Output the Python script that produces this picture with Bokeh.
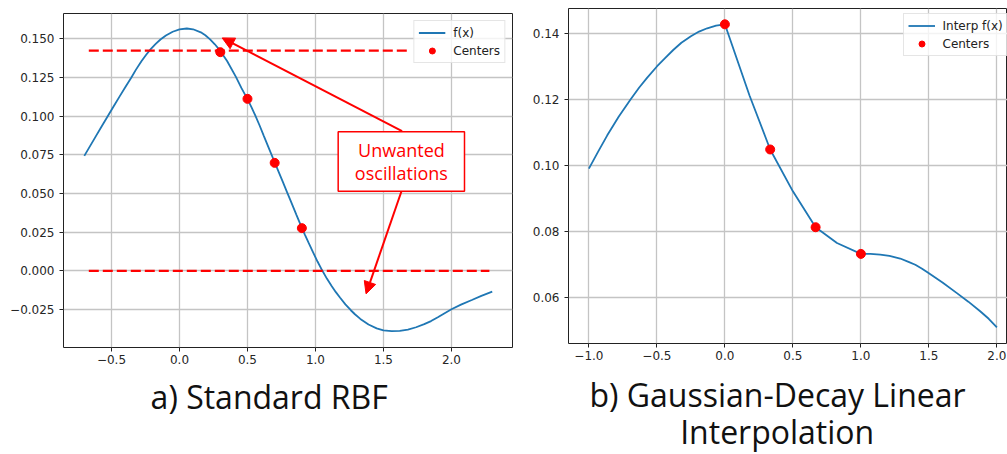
from bokeh.plotting import figure
from bokeh.layouts import row, column
from bokeh.models import (Range1d, FixedTicker, CustomJSTickFormatter, Legend, LegendItem,
                          Label, BoxAnnotation, Arrow, NormalHead, Spacer)
from bokeh.core.properties import value
from bokeh.embed import file_html
from bokeh.resources import INLINE

# ---------------- data: a) Standard RBF ----------------
rbf_x = [-0.70, -0.66, -0.62, -0.575, -0.53, -0.485, -0.44, -0.40, -0.355, -0.32, -0.28,
         -0.245, -0.21, -0.175, -0.14, -0.10, -0.05, 0.00, 0.054, 0.10, 0.157, 0.19, 0.225,
         0.26, 0.30, 0.35, 0.415, 0.455, 0.50, 0.53, 0.558, 0.59, 0.62, 0.66, 0.70, 0.73,
         0.76, 0.79, 0.82, 0.86, 0.90, 0.922, 0.95, 0.98, 1.015, 1.051, 1.085, 1.12, 1.15,
         1.18, 1.22, 1.26, 1.29, 1.33, 1.39, 1.45, 1.50, 1.56, 1.62, 1.68, 1.74, 1.80, 1.85,
         1.90, 2.00, 2.07, 2.15, 2.22, 2.30]
rbf_y = [0.0743, 0.0803, 0.0863, 0.0930, 0.0996, 0.1062, 0.1128, 0.1186, 0.1249, 0.1301,
         0.1355, 0.1397, 0.1435, 0.1467, 0.1496, 0.1522, 0.1546, 0.1561, 0.1567, 0.1562,
         0.1542, 0.1523, 0.1497, 0.1465, 0.1422, 0.1357, 0.1254, 0.1183, 0.1110, 0.1057,
         0.1003, 0.0938, 0.0873, 0.0787, 0.0702, 0.0638, 0.0575, 0.0511, 0.0447, 0.0362,
         0.0278, 0.0234, 0.0180, 0.0124, 0.0060, 0.0000, -0.0052, -0.0100, -0.0138, -0.0173,
         -0.0217, -0.0255, -0.0281, -0.0311, -0.0347, -0.0372, -0.0385, -0.0390, -0.0388,
         -0.0380, -0.0365, -0.0345, -0.0325, -0.0300, -0.0249, -0.0219, -0.0189, -0.0162,
         -0.0135]
rbf_centers_x = [0.3, 0.5, 0.7, 0.9]
rbf_centers_y = [0.1414, 0.1112, 0.0698, 0.0276]

rbf_xticks = [-0.5, 0.0, 0.5, 1.0, 1.5, 2.0]
rbf_yticks = [-0.025, 0.0, 0.025, 0.05, 0.075, 0.1, 0.125, 0.15]

# overlay annotations (data coordinates)
upper_dash_x = [-0.667, 1.679]
upper_dash_y = [0.1424, 0.1424]
lower_dash_x = [-0.667, 2.279]
lower_dash_y = [0.0, 0.0]
note_box = dict(left=1.167, right=2.096, top=0.0900, bottom=0.0514)
arrow_up = dict(x_start=1.637, y_start=0.0903, x_end=0.314, y_end=0.1506)
arrow_down = dict(x_start=1.632, y_start=0.0513, x_end=1.372, y_end=-0.0149)
note_lines = ["Unwanted", "oscillations"]
note_x = 1.632
note_y = [0.0780, 0.0630]

# ---------------- data: b) Gaussian-Decay Linear Interpolation ----------------
gd_x = [-1.0, -0.93, -0.865, -0.78, -0.694, -0.63, -0.571, -0.5, -0.44, -0.38, -0.32,
        -0.25, -0.19, -0.13, -0.065, 0.0, 0.181, 0.333, 0.5, 0.667, 0.824, 1.0, 1.07,
        1.142, 1.21, 1.289, 1.35, 1.40, 1.45, 1.5, 1.6, 1.706, 1.79, 1.877, 1.94, 2.0]
gd_y = [0.0990, 0.1043, 0.1091, 0.1148, 0.1200, 0.1236, 0.1266, 0.1300, 0.1325, 0.1350,
        0.1372, 0.1392, 0.1406, 0.1416, 0.1424, 0.1428, 0.1212, 0.1048, 0.0921, 0.0812,
        0.0764, 0.0731, 0.0731, 0.0729, 0.0725, 0.0717, 0.0707, 0.0698, 0.0686, 0.0672,
        0.0644, 0.0612, 0.0586, 0.0557, 0.0534, 0.0508]
gd_centers_x = [0.0, 0.333, 0.667, 1.0]
gd_centers_y = [0.1428, 0.1048, 0.0812, 0.0731]

gd_xticks = [-1.0, -0.5, 0.0, 0.5, 1.0, 1.5, 2.0]
gd_yticks = [0.06, 0.08, 0.10, 0.12, 0.14]

caption_text = ["a) Standard RBF", "b) Gaussian-Decay Linear", "Interpolation"]

BLUE = "#1f77b4"
RED = "#ff0000"
CAP_FONT = "Open Sans"


def style(p, xticks, yticks, xdec, ydec):
    p.background_fill_color = "white"
    p.border_fill_color = "white"
    p.outline_line_color = "#222222"
    p.outline_line_width = 1
    p.outline_line_alpha = 1
    p.xaxis.ticker = FixedTicker(ticks=xticks)
    p.yaxis.ticker = FixedTicker(ticks=yticks)
    p.xgrid.ticker = FixedTicker(ticks=xticks)
    p.ygrid.ticker = FixedTicker(ticks=yticks)
    p.xaxis.formatter = CustomJSTickFormatter(
        code="return tick.toFixed(%d).replace('-', '\\u2212')" % xdec)
    p.yaxis.formatter = CustomJSTickFormatter(
        code="return tick.toFixed(%d).replace('-', '\\u2212')" % ydec)
    for ax in (p.xaxis[0], p.yaxis[0]):
        ax.axis_line_color = None
        ax.major_tick_line_color = "#222222"
        ax.major_tick_out = 4
        ax.major_tick_in = 0
        ax.minor_tick_line_color = None
        ax.major_label_text_font = "DejaVu Sans"
        ax.major_label_text_font_size = "12px"
        ax.major_label_text_color = "#262626"
    p.xaxis.major_label_standoff = 3
    p.yaxis.major_label_standoff = 5
    for g in (p.xgrid[0], p.ygrid[0]):
        g.grid_line_color = "#c4c4c4"
        g.grid_line_width = 1.3


def make_legend(items, location):
    return Legend(items=items, location=location, margin=7,
                  border_line_color="#cccccc", border_line_width=1,
                  background_fill_color="white", background_fill_alpha=0.8,
                  label_text_font="DejaVu Sans", label_text_font_size="12px",
                  label_text_color="#222222",
                  padding=4, spacing=3, glyph_height=15, glyph_width=27,
                  label_height=15, label_standoff=8)


# ---------------- figure a (frame: x 63-512, y 13-347) ----------------
p1 = figure(width=520, height=366, output_backend="svg", toolbar_location=None,
            x_range=Range1d(-0.853, 2.449), y_range=Range1d(-0.0496, 0.1664),
            min_border_left=63, min_border_right=8, min_border_top=8, min_border_bottom=24)
style(p1, rbf_xticks, rbf_yticks, 1, 3)

l1 = p1.line(rbf_x, rbf_y, line_color=BLUE, line_width=1.8)
s1 = p1.scatter(rbf_centers_x, rbf_centers_y, size=9, fill_color=RED, line_color=RED)
p1.line(upper_dash_x, upper_dash_y, line_color=RED, line_width=2.2, line_dash="10 4")
p1.line(lower_dash_x, lower_dash_y, line_color=RED, line_width=2.2, line_dash="10 4")

p1.add_layout(BoxAnnotation(fill_color="white", fill_alpha=1.0, line_color=RED,
                            line_width=1.5, line_alpha=1.0, **note_box))
for txt, yy in zip(note_lines, note_y):
    p1.add_layout(Label(x=note_x, y=yy, text=txt, text_align="center",
                        text_baseline="alphabetic", text_font=CAP_FONT,
                        text_font_size="18px", text_color=RED))
for a in (arrow_up, arrow_down):
    p1.add_layout(Arrow(end=NormalHead(size=12, fill_color=RED, line_color=RED),
                        line_color=RED, line_width=2, **a))

p1.add_layout(make_legend([LegendItem(label="f(x)", renderers=[l1]),
                           LegendItem(label="Centers", renderers=[s1])], "top_right"))

# ---------------- figure b (frame: x 568-1007, y 8-343) ----------------
p2 = figure(width=487, height=367, output_backend="svg", toolbar_location=None,
            x_range=Range1d(-1.15, 2.078), y_range=Range1d(0.0459, 0.1476),
            min_border_left=48, min_border_right=0, min_border_top=8, min_border_bottom=24)
style(p2, gd_xticks, gd_yticks, 1, 2)

l2 = p2.line(gd_x, gd_y, line_color=BLUE, line_width=1.8)
s2 = p2.scatter(gd_centers_x, gd_centers_y, size=9, fill_color=RED, line_color=RED)

p2.add_layout(make_legend([LegendItem(label="Interp f(x)", renderers=[l2]),
                           LegendItem(label="Centers", renderers=[s2])], (334.5, 287)))

# ---------------- captions strip (data units = page pixels) ----------------
p3 = figure(width=1007, height=83, output_backend="svg", toolbar_location=None,
            x_range=Range1d(0, 1007), y_range=Range1d(454, 371),
            x_axis_location=None, y_axis_location=None,
            min_border_left=0, min_border_right=0, min_border_top=0, min_border_bottom=0)
p3.outline_line_color = None
p3.xgrid.visible = False
p3.ygrid.visible = False
p3.text(x=[268.7, 777.0, 776.7], y=[395.8, 394.2, 430.5], text=caption_text,
        text_font=value(CAP_FONT), text_font_size="32px", text_align="center",
        text_baseline="alphabetic", text_color="#111111")

layout = column(row(column(Spacer(width=520, height=5), p1), p2), p3)
open("out.html", "w").write(file_html(layout, INLINE))
